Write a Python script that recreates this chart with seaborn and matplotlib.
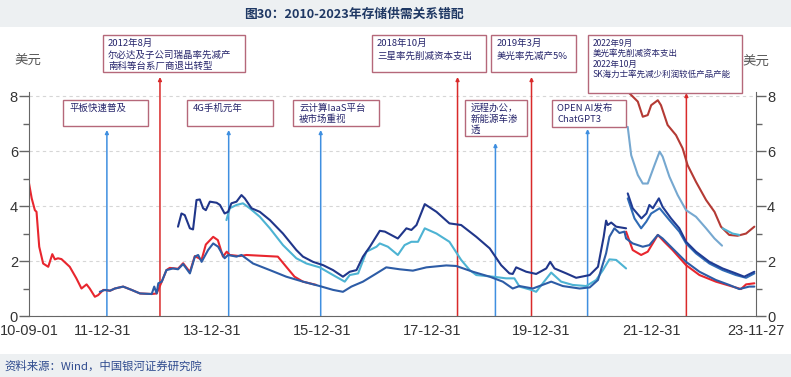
import pandas as pd
import matplotlib
matplotlib.use('Agg')
import matplotlib.pyplot as plt
import matplotlib.dates as mdates
from matplotlib.patches import Rectangle
from matplotlib.ticker import FixedLocator
import seaborn as sns

sns.set_style('white')
plt.rcParams['font.family'] = ['Noto Sans CJK SC', 'DejaVu Sans']

W, H = 791, 377

title = '图30：2010-2023年存储供需关系错配'
source = '资料来源：Wind，中国银河证券研究院'
unit = '美元'

# ---- price series (USD) ----
red_a_dates = ['2010-09-01', '2010-09-19', '2010-10-10', '2010-10-21', '2010-11-08', '2010-12-04',
               '2011-01-07', '2011-02-03', '2011-02-20', '2011-03-13', '2011-04-05', '2011-05-30',
               '2011-07-13', '2011-08-16', '2011-09-19', '2011-10-10', '2011-11-13', '2011-12-05',
               '2012-01-08', '2012-02-22', '2012-03-25', '2012-05-19', '2012-07-14', '2012-09-08',
               '2012-11-25', '2012-12-28', '2013-01-31', '2013-03-03', '2013-03-25', '2013-05-19',
               '2013-06-22', '2013-08-06', '2013-09-08', '2013-10-23', '2013-11-20', '2014-01-08',
               '2014-02-08', '2014-03-14', '2014-04-08', '2014-04-28', '2014-07-03', '2014-08-17',
               '2015-03-14', '2015-05-09', '2015-07-03', '2015-08-28', '2015-11-25']
red_a_vals = [4.83, 4.28, 3.85, 3.79, 2.52, 1.91,
              1.79, 2.25, 2.06, 2.10, 2.07, 1.79,
              1.37, 1.00, 1.15, 1.00, 0.70, 0.76,
              0.95, 0.92, 1.00, 1.07, 0.95, 0.82,
              0.80, 0.82, 1.25, 1.67, 1.75, 1.72,
              1.92, 1.60, 2.18, 2.05, 2.60, 2.88,
              2.76, 2.16, 2.34, 2.22, 2.18, 2.22,
              2.16, 1.79, 1.43, 1.25, 1.13]

red_b_dates = ['2021-07-16', '2021-08-29', '2021-10-24', '2021-12-07', '2022-02-12', '2022-03-27',
               '2022-05-21', '2022-08-19', '2022-11-16', '2023-03-05', '2023-06-24', '2023-08-19',
               '2023-09-22', '2023-11-16']
red_b_vals = [3.07, 2.40, 2.22, 2.34, 2.95, 2.70,
              2.40, 1.85, 1.49, 1.25, 1.07, 0.98,
              1.15, 1.19]

darkred_dates = ['2021-07-01', '2021-08-19', '2021-10-02', '2021-11-04', '2021-12-07', '2021-12-30',
                 '2022-02-12', '2022-03-05', '2022-04-18', '2022-06-13', '2022-07-27', '2022-08-29',
                 '2022-10-24', '2022-12-30', '2023-02-24', '2023-04-08', '2023-06-02', '2023-07-27',
                 '2023-09-22', '2023-11-16']
darkred_vals = [8.30, 8.04, 7.80, 7.25, 7.31, 7.67,
                7.85, 7.67, 6.95, 6.58, 6.10, 5.49,
                4.88, 4.22, 3.79, 3.25, 2.95, 2.92,
                3.00, 3.25]

steel_dates = ['2021-07-27', '2021-08-19', '2021-10-02', '2021-11-04', '2021-12-07', '2022-01-21',
               '2022-02-24', '2022-03-16', '2022-04-30', '2022-06-24', '2022-08-19', '2022-10-24',
               '2022-12-30', '2023-02-24', '2023-04-15']
steel_vals = [6.88, 5.85, 5.13, 4.82, 4.82, 5.49,
              5.98, 5.80, 5.07, 4.40, 3.85, 3.61,
              3.19, 2.82, 2.56]

cyan_dates = ['2014-04-06', '2014-04-28', '2014-06-12', '2014-07-25', '2014-09-08', '2014-11-14',
              '2015-01-20', '2015-04-17', '2015-07-15', '2015-09-20', '2015-12-17', '2016-03-15',
              '2016-06-01', '2016-07-04', '2016-08-29', '2016-10-23', '2016-12-29', '2017-01-20',
              '2017-03-15', '2017-05-20', '2017-07-04', '2017-08-18', '2017-10-01', '2017-11-15',
              '2018-02-01', '2018-04-28', '2018-07-15', '2018-09-10', '2018-10-24', '2019-02-12',
              '2019-05-10', '2019-07-04', '2019-08-07', '2019-10-24', '2019-11-26', '2020-01-09',
              '2020-03-05', '2020-05-10', '2020-07-26', '2020-10-24', '2020-12-29', '2021-02-12',
              '2021-03-27', '2021-05-11', '2021-05-26', '2021-07-16']
cyan_vals = [3.49, 3.92, 4.04, 4.10, 3.92, 3.61,
             3.19, 2.58, 2.10, 1.91, 1.77, 1.49,
             1.25, 1.49, 1.55, 2.34, 2.52, 2.64,
             2.52, 2.22, 2.58, 2.70, 2.70, 3.19,
             3.00, 2.70, 2.04, 1.67, 1.49, 1.43,
             1.37, 1.37, 1.07, 0.95, 0.88, 1.19,
             1.58, 1.25, 1.13, 1.09, 1.31, 1.67,
             2.06, 2.04, 1.97, 1.73]

cyan_b_dates = ['2023-04-19', '2023-06-24', '2023-08-08']
cyan_b_vals = [3.19, 3.00, 2.95]

blue_dates = ['2011-12-16', '2012-01-19', '2012-02-22', '2012-03-25', '2012-05-19', '2012-07-14',
              '2012-09-08', '2012-11-25', '2012-12-12', '2012-12-28', '2013-01-08', '2013-01-31',
              '2013-03-03', '2013-04-16', '2013-05-19', '2013-06-22', '2013-08-06', '2013-09-08',
              '2013-09-30', '2013-10-23', '2013-12-05', '2014-01-08', '2014-02-10', '2014-03-25',
              '2014-04-17', '2014-06-12', '2014-07-15', '2014-09-30', '2015-01-20', '2015-05-09',
              '2015-08-28', '2015-12-17', '2016-03-15', '2016-05-20', '2016-07-15', '2016-09-30',
              '2016-12-29', '2017-03-04', '2017-06-01', '2017-08-28', '2017-11-26', '2018-04-07',
              '2018-06-12', '2018-10-01', '2019-01-21', '2019-04-18', '2019-06-23', '2019-08-07',
              '2019-11-04', '2020-03-05', '2020-05-21', '2020-09-10', '2020-11-16', '2021-01-10',
              '2021-03-05', '2021-03-27', '2021-04-29', '2021-06-02', '2021-07-05', '2021-07-16',
              '2021-08-29', '2021-11-04', '2021-12-18', '2022-02-12', '2022-03-16', '2022-05-21',
              '2022-08-19', '2022-11-16', '2023-03-05', '2023-06-02', '2023-08-08', '2023-10-13',
              '2023-11-16']
blue_vals = [0.88, 0.95, 0.92, 1.00, 1.07, 0.95,
             0.82, 0.80, 1.07, 0.82, 1.19, 1.25,
             1.67, 1.73, 1.70, 1.89, 1.55, 2.16,
             2.22, 1.97, 2.40, 2.64, 2.52, 2.10,
             2.22, 2.16, 2.22, 1.91, 1.67, 1.43,
             1.25, 1.09, 0.95, 0.88, 1.07, 1.25,
             1.55, 1.77, 1.70, 1.65, 1.77, 1.84,
             1.82, 1.61, 1.43, 1.25, 1.00, 1.09,
             1.00, 1.25, 1.09, 1.00, 1.04, 1.31,
             2.28, 2.88, 3.19, 3.02, 3.07, 2.82,
             2.64, 2.52, 2.58, 2.95, 2.82, 2.46,
             1.97, 1.61, 1.31, 1.13, 0.98, 1.07,
             1.07]

blue_b_dates = ['2021-07-27', '2021-09-10', '2021-10-24', '2021-11-27', '2021-12-30', '2022-02-24',
                '2022-04-30', '2022-07-05', '2022-08-19', '2022-10-24', '2023-01-21', '2023-04-19',
                '2023-07-16', '2023-09-22', '2023-11-16']
blue_b_vals = [4.28, 3.55, 3.19, 3.43, 3.73, 3.92,
               3.49, 3.07, 2.64, 2.28, 1.91, 1.67,
               1.49, 1.39, 1.55]

navy_dates = ['2013-05-19', '2013-06-11', '2013-07-03', '2013-08-06', '2013-08-27', '2013-09-19',
              '2013-10-11', '2013-11-02', '2013-11-20', '2013-12-17', '2014-01-31', '2014-02-22',
              '2014-03-25', '2014-04-17', '2014-05-09', '2014-06-12', '2014-07-15', '2014-08-06',
              '2014-09-20', '2014-11-14', '2015-01-20', '2015-04-17', '2015-07-15', '2015-08-28',
              '2015-11-03', '2016-01-09', '2016-03-15', '2016-05-20', '2016-07-04', '2016-08-18',
              '2016-09-30', '2016-11-15', '2017-01-20', '2017-02-23', '2017-05-20', '2017-07-16',
              '2017-08-18', '2017-09-21', '2017-11-15', '2018-02-01', '2018-04-28', '2018-07-15',
              '2018-10-24', '2019-01-21', '2019-04-07', '2019-06-01', '2019-06-23', '2019-07-16',
              '2019-09-21', '2019-11-26', '2020-02-01', '2020-02-27', '2020-03-27', '2020-06-13',
              '2020-08-18', '2020-11-16', '2021-01-10', '2021-02-17', '2021-03-05', '2021-03-16',
              '2021-04-08', '2021-05-11', '2021-07-16']
navy_vals = [3.25, 3.73, 3.67, 3.19, 3.15, 4.22,
             4.24, 3.92, 3.85, 4.16, 4.12, 4.04,
             3.73, 3.79, 4.10, 4.16, 4.40, 4.28,
             3.92, 3.79, 3.49, 3.00, 2.40, 2.16,
             1.97, 1.85, 1.67, 1.43, 1.61, 1.67,
             2.16, 2.52, 3.10, 3.07, 2.82, 3.19,
             3.13, 3.31, 4.07, 3.79, 3.37, 3.31,
             2.88, 2.46, 1.85, 1.55, 1.53, 1.77,
             1.61, 1.53, 1.73, 1.97, 1.73, 1.55,
             1.39, 1.49, 1.79, 2.88, 3.47, 3.31,
             3.40, 3.25, 3.19]

navy_b_dates = ['2021-07-27', '2021-08-29', '2021-10-26', '2021-11-28', '2021-12-18', '2022-01-10',
                '2022-02-19', '2022-03-16', '2022-05-11', '2022-07-05', '2022-08-19', '2022-10-24',
                '2023-01-21', '2023-04-19', '2023-07-16', '2023-09-10', '2023-10-13', '2023-11-16']
navy_b_vals = [4.46, 3.92, 3.55, 3.73, 4.04, 3.92,
               4.28, 3.97, 3.55, 3.19, 2.70, 2.34,
               1.97, 1.73, 1.55, 1.43, 1.52, 1.61]

# ---- events (vertical arrows + boxes) ----
event_dates = ['2012-02-01', '2013-01-19', '2014-04-21', '2015-12-24', '2018-06-21',
               '2019-02-28', '2019-10-26', '2020-11-02', '2022-08-21']
event_kinds = ['demand', 'supply', 'demand', 'demand', 'supply',
               'demand', 'supply', 'demand', 'supply']
event_labels = ['平板快速普及',
                '2012年8月\n尔必达及子公司瑞晶率先减产\n南科等台系厂商退出转型',
                '4G手机元年',
                '云计算IaaS平台\n被市场重视',
                '2018年10月\n三星率先削减资本支出',
                '远程办公，\n新能源车渗\n透',
                '2019年3月\n美光率先减产5%',
                'OPEN AI发布\nChatGPT3',
                '2022年9月\n美光率先削减资本支出\n2022年10月\nSK海力士率先减少利润较低产品产能']

tick_dates = ['2010-09-01', '2011-12-31', '2013-12-31', '2015-12-31', '2017-12-31',
              '2019-12-31', '2021-12-31', '2023-11-27']
tick_labels = ['10-09-01', '11-12-31', '13-12-31', '15-12-31', '17-12-31',
               '19-12-31', '21-12-31', '23-11-27']

# ---- layout (pixels, origin top-left) ----
arrow_tip_px = [130, 77, 130, 130, 77, 143, 77, 129, 93]
box_px = [(63, 100, 148, 126), (103, 35, 245, 72), (187, 100, 273, 126), (293, 100, 379, 126),
          (372, 35, 486, 72), (465, 100, 527, 136), (491, 35, 576, 72), (552, 100, 626, 127),
          (588, 35, 742, 93)]
box_text = [(69, 108, 11.5, 6.8), (108, 43.5, 11.3, 6.8), (193, 108, 11.5, 6.8), (299, 108, 11.5, 6.8),
            (377, 43.5, 12.5, 6.8), (471, 108, 11.0, 6.8), (497, 43.5, 12.5, 6.8), (557, 108, 12.0, 6.8),
            (593, 43.2, 10.4, 6.1)]

series = [
    ('red_a', red_a_dates, red_a_vals, '#E8262E'),
    ('red_b', red_b_dates, red_b_vals, '#E8262E'),
    ('darkred', darkred_dates, darkred_vals, '#B43A34'),
    ('steel', steel_dates, steel_vals, '#76A8D0'),
    ('cyan', cyan_dates, cyan_vals, '#4DB3D3'),
    ('cyan_b', cyan_b_dates, cyan_b_vals, '#4DB3D3'),
    ('blue', blue_dates, blue_vals, '#2D5CA6'),
    ('blue_b', blue_b_dates, blue_b_vals, '#2F6BB5'),
    ('navy', navy_dates, navy_vals, '#20368A'),
    ('navy_b', navy_b_dates, navy_b_vals, '#203C94'),
]

frames = []
for name, d, v, _ in series:
    frames.append(pd.DataFrame({'date': pd.to_datetime(d), 'price': v, 'series': name}))
df = pd.concat(frames, ignore_index=True)
palette = {name: c for name, _, _, c in series}
order = [name for name, _, _, _ in series]


def fx(px):
    return px / W


def fy(py):
    return 1 - py / H


fig = plt.figure(figsize=(W / 100, H / 100), dpi=100)
fig.add_artist(Rectangle((0, fy(27)), 1, 27 / H, transform=fig.transFigure,
                         facecolor='#EDF0F2', edgecolor='none', zorder=-1))
fig.add_artist(Rectangle((0, 0), 1, 23 / H, transform=fig.transFigure,
                         facecolor='#EDF0F2', edgecolor='none', zorder=-1))

ax = fig.add_axes([fx(29), 1 - 316 / H, 727 / W, 224 / H])
ax.patch.set_alpha(0)
sns.lineplot(data=df, x='date', y='price', hue='series', hue_order=order, palette=palette,
             estimator=None, sort=False, legend=False, linewidth=1.5, ax=ax)

ymax = 8.15
ax.set_ylim(0, ymax)
ax.set_xlim(pd.Timestamp('2010-09-01'), pd.Timestamp('2023-11-27'))
ax.set_xlabel('')
ax.set_ylabel('')

ax.set_xticks(mdates.date2num(pd.to_datetime(tick_dates)))
ax.set_xticklabels(tick_labels, fontfamily='Liberation Sans', fontsize=10.5, color='#333333')
minor_x = mdates.date2num(pd.date_range('2010-09-01', '2023-11-27', freq='70D'))
ax.xaxis.set_minor_locator(FixedLocator(minor_x))

ax.set_yticks([0, 2, 4, 6, 8])
ax.set_yticklabels(['0', '2', '4', '6', '8'], fontfamily='Liberation Sans', fontsize=10.5, color='#333333')
ax.set_yticks([1, 3, 5, 7], minor=True)

ax.tick_params(axis='x', which='both', direction='out', length=4, width=1, color='#666666', pad=2)
ax.tick_params(axis='y', which='major', direction='out', length=7, width=1, color='#666666', pad=1)
ax.tick_params(axis='y', which='minor', direction='out', length=4, width=1, color='#666666')

ax.grid(True, axis='y', color='#D6D6D6', linestyle=(0, (3, 3)), linewidth=0.8)
ax.grid(False, axis='x')
for side in ['top', 'right']:
    ax.spines[side].set_visible(False)
for side in ['left', 'bottom']:
    ax.spines[side].set_color('#666666')

ax2 = ax.twinx()
ax2.set_ylim(0, ymax)
ax2.set_yticks([0, 2, 4, 6, 8])
ax2.set_yticklabels(['0', '2', '4', '6', '8'], fontfamily='Liberation Sans', fontsize=10.5, color='#333333')
ax2.set_yticks([1, 3, 5, 7], minor=True)
ax2.tick_params(axis='y', which='major', direction='out', length=7, width=1, color='#666666', pad=1)
ax2.tick_params(axis='y', which='minor', direction='out', length=4, width=1, color='#666666')
for side in ['top', 'left', 'bottom']:
    ax2.spines[side].set_visible(False)
ax2.spines['right'].set_color('#666666')

kind_color = {'demand': '#3F8FE0', 'supply': '#D92A2A'}
for d, kind, tip in zip(event_dates, event_kinds, arrow_tip_px):
    xd = mdates.date2num(pd.Timestamp(d))
    frac = (316 - tip) / 224
    ax.annotate('', xy=(xd, frac), xytext=(xd, 0), xycoords=('data', 'axes fraction'),
                arrowprops=dict(arrowstyle='-|>', color=kind_color[kind], lw=1.1,
                                shrinkA=0, shrinkB=0, mutation_scale=5),
                annotation_clip=False, zorder=1.5)

for label, (x0, y0, x1, y1), (tx, ty, step, fs) in zip(event_labels, box_px, box_text):
    fig.add_artist(Rectangle((fx(x0), fy(y1)), (x1 - x0) / W, (y1 - y0) / H,
                             transform=fig.transFigure, facecolor='white',
                             edgecolor='#B5687A', linewidth=1.0, zorder=5))
    for i, line in enumerate(label.split('\n')):
        fig.text(fx(tx), fy(ty + i * step), line, ha='left', va='center',
                 fontsize=fs, color='#26256B', zorder=6)

fig.text(fx(28), fy(61), unit, ha='center', va='center', fontsize=9.7, color='#595959')
fig.text(fx(756), fy(62), unit, ha='center', va='center', fontsize=9.7, color='#595959')
fig.text(fx(354), fy(14), title, ha='center', va='center', fontsize=9.2,
         fontweight='bold', color='#1F3864')
fig.text(fx(4), fy(366), source, ha='left', va='center', fontsize=8.2,
         color='#2E4A8E', style='italic')

fig.savefig('out.png', dpi=100)
